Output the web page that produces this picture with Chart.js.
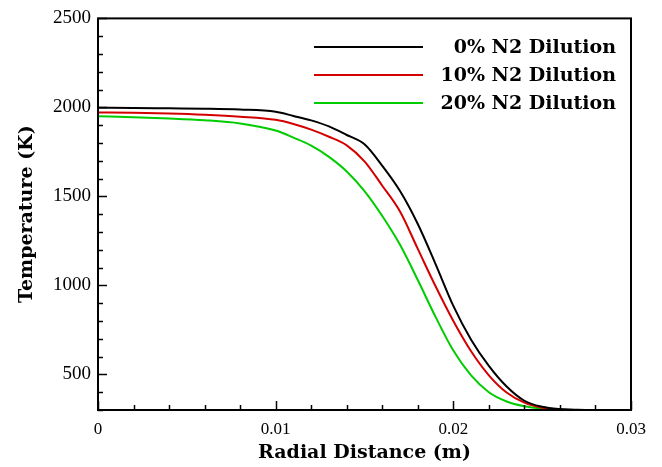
<!DOCTYPE html>
<html>
<head>
<meta charset="utf-8">
<script src="https://cdn.jsdelivr.net/npm/chart.js@4"></script>
<style>
  html, body { margin: 0; padding: 0; background: #fff; }
  #wrap { width: 662px; height: 467px; }
</style>
</head>
<body>
<div id="wrap"><canvas id="tempChart" width="662" height="467"></canvas></div>
<script>
// datos (x en m, T en K)
const radius = [0, 0.002, 0.004, 0.006, 0.008, 0.010, 0.011, 0.012, 0.013, 0.014, 0.015,
  0.016, 0.017, 0.018, 0.019, 0.020, 0.021, 0.022, 0.023, 0.024, 0.025, 0.026, 0.027, 0.028, 0.030];
const temp0 = [1998, 1997, 1995, 1993, 1988, 1975, 1952, 1927, 1893, 1845, 1793,
  1672, 1530, 1345, 1120, 885, 695, 548, 432, 352, 318, 305, 301, 300, 300];
const temp10 = [1972, 1970, 1966, 1959, 1948, 1930, 1907, 1875, 1835, 1787, 1697,
  1560, 1415, 1205, 995, 800, 630, 495, 398, 341, 313, 303, 300, 300, 300];
const temp20 = [1950, 1945, 1938, 1928, 1910, 1870, 1830, 1785, 1722, 1640, 1530,
  1390, 1228, 1030, 823, 634, 494, 400, 348, 321, 308, 302, 300, 300, 300];
const seriesLabels = ['0% N2 Dilution', '10% N2 Dilution', '20% N2 Dilution'];
const xTickValues = [0, 0.01, 0.02, 0.03];
const xTickLabels = ['0', '0.01', '0.02', '0.03'];
const yTickValues = [500, 1000, 1500, 2000, 2500];

const serif = '"Liberation Serif", "DejaVu Serif", serif';
const wideSerif = '"DejaVu Serif", "Liberation Serif", serif';

function toPoints(ys) {
  return radius.map((x, i) => ({ x: x, y: ys[i] }));
}

// marco y marcas hacia dentro, como en Tecplot
const frameTicks = {
  id: 'frameTicks',
  afterDatasetsDraw(chart) {
    const { ctx, chartArea: a, scales } = chart;
    const xs = scales.x, ys = scales.y;
    ctx.save();
    ctx.strokeStyle = '#000';
    ctx.lineWidth = 1.5;
    for (let v = 0; v <= 0.03001; v += 0.002) {
      const px = Math.round(xs.getPixelForValue(v)) + 0.5;
      const major = Math.abs(v / 0.01 - Math.round(v / 0.01)) < 1e-6;
      ctx.beginPath();
      ctx.moveTo(px, a.bottom);
      ctx.lineTo(px, a.bottom - (major ? 9 : 5));
      ctx.stroke();
    }
    for (let v = 300; v <= 2500; v += 100) {
      const py = Math.round(ys.getPixelForValue(v)) + 0.5;
      const major = v % 500 === 0;
      ctx.beginPath();
      ctx.moveTo(a.left, py);
      ctx.lineTo(a.left + (major ? 9 : 5), py);
      ctx.stroke();
    }
    ctx.lineWidth = 2;
    ctx.strokeRect(a.left, a.top, a.right - a.left, a.bottom - a.top);
    ctx.restore();
  }
};

// leyenda con texto alineado a la derecha
const rightLegend = {
  id: 'rightLegend',
  afterDraw(chart) {
    const { ctx } = chart;
    ctx.save();
    ctx.font = 'bold 19px ' + wideSerif;
    ctx.textAlign = 'right';
    ctx.textBaseline = 'middle';
    chart.data.datasets.forEach((ds, i) => {
      const y = 47 + i * 28;
      ctx.strokeStyle = ds.borderColor;
      ctx.lineWidth = 2;
      ctx.beginPath();
      ctx.moveTo(314, y);
      ctx.lineTo(423, y);
      ctx.stroke();
      ctx.fillStyle = '#000';
      ctx.fillText(ds.label, 616, y + 1);
    });
    ctx.restore();
  }
};

const ctx = document.getElementById('tempChart').getContext('2d');
const tempChart = new Chart(ctx, {
  type: 'line',
  data: {
    datasets: [
      { label: seriesLabels[0], data: toPoints(temp0), borderColor: '#000000' },
      { label: seriesLabels[1], data: toPoints(temp10), borderColor: '#d40000' },
      { label: seriesLabels[2], data: toPoints(temp20), borderColor: '#00cc00' }
    ]
  },
  options: {
    responsive: false,
    animation: false,
    layout: { padding: { top: 15, right: 31, left: 0, bottom: 0 } },
    elements: {
      point: { radius: 0 },
      line: { borderWidth: 2, cubicInterpolationMode: 'monotone', fill: false }
    },
    plugins: { legend: { display: false }, tooltip: { enabled: false } },
    scales: {
      x: {
        type: 'linear',
        min: 0,
        max: 0.03,
        grid: { display: false, drawTicks: false },
        border: { display: false },
        afterBuildTicks: s => { s.ticks = xTickValues.map(v => ({ value: v })); },
        afterFit: s => { s.height = 57; },
        ticks: {
          color: '#000',
          padding: 9,
          maxRotation: 0,
          font: { family: serif, size: 17 },
          callback: (v, i) => xTickLabels[i]
        },
        title: {
          display: true,
          text: 'Radial Distance (m)',
          color: '#000',
          font: { family: wideSerif, size: 19, weight: 'bold' },
          padding: { top: 0, bottom: 3 }
        }
      },
      y: {
        min: 300,
        max: 2500,
        grid: { display: false, drawTicks: false },
        border: { display: false },
        afterBuildTicks: s => { s.ticks = yTickValues.map(v => ({ value: v })); },
        afterFit: s => { s.width = 98; },
        ticks: {
          color: '#000',
          padding: 7,
          font: { family: serif, size: 19 },
          callback: v => String(v)
        },
        title: {
          display: true,
          text: 'Temperature (K)',
          color: '#000',
          font: { family: wideSerif, size: 19, weight: 'bold' },
          padding: { top: 16, bottom: 0 }
        }
      }
    }
  },
  plugins: [frameTicks, rightLegend]
});
</script>
</body>
</html>
